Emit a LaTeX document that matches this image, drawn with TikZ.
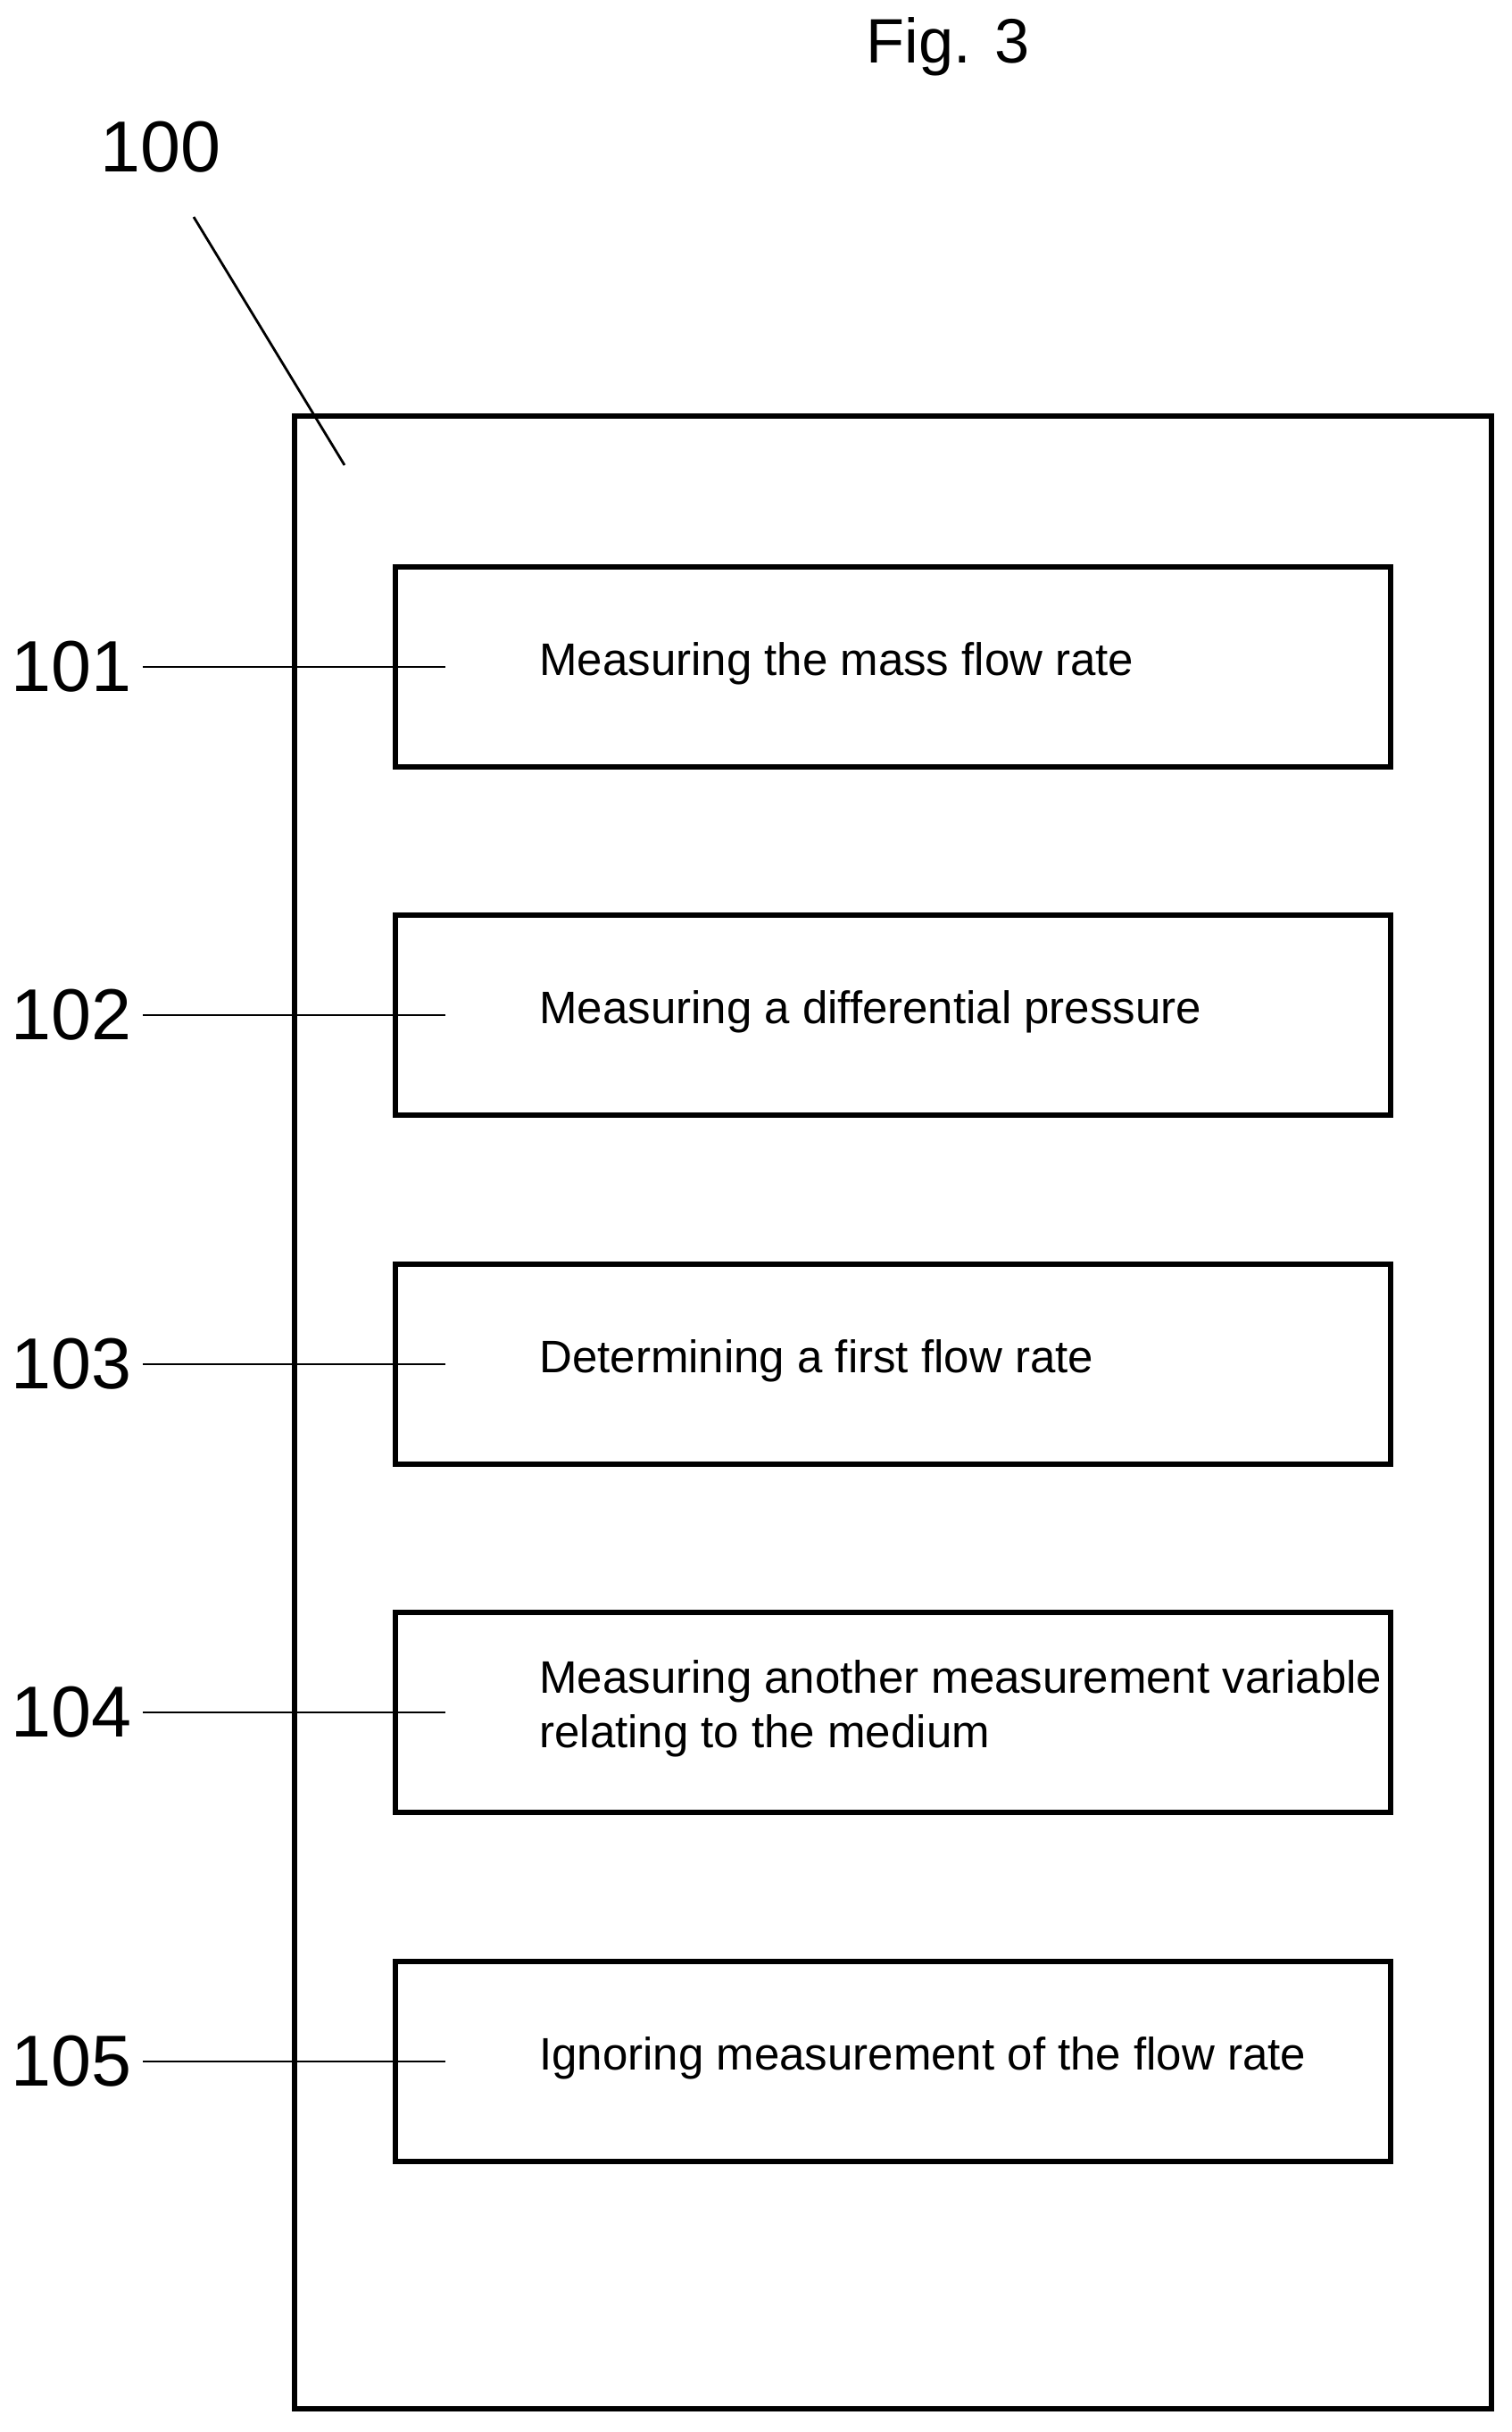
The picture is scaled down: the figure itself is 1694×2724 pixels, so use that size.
\documentclass[tikz,border=0pt]{standalone}
\usepackage{fontspec}
\setmainfont{Liberation Sans}
\begin{document}
\begin{tikzpicture}[x=0.01cm,y=-0.01cm,
  box/.style={draw,line width=1.6pt},
  steptext/.style={anchor=west,font=\fontsize{14.5}{17.5}\selectfont,align=left},
  num/.style={font=\fontsize{20}{24}\selectfont},
  lnum/.style={font=\fontsize{23}{27}\selectfont},
  lead/.style={line width=0.8pt}]
\useasboundingbox (0,0) rectangle (1694,2724);
\node[num] (fig) at (1062,52) {Fig. 3};
\node[lnum] (n100) at (180,165) {100};
\draw[box] (330,466) rectangle (1671,2698);
\coordinate (d1) at (217,243); \coordinate (d2) at (386,521);
\draw[lead] (d1) -- (d2);
\foreach \i/\y/\t in {1/747/{Measuring the mass flow rate},2/1137/{Measuring a differential pressure},3/1528/{Determining a first flow rate},4/1918/{Measuring another measurement variable\\relating to the medium},5/2309/{Ignoring measurement of the flow rate}}{
  \draw[box] (443,\y-112) rectangle (1558,\y+112);
  \node[steptext] (s\i) at (592,\y-4) {\t};
  \node[lnum,anchor=east] (l\i) at (160,\y) {10\i};
  \coordinate (e\i) at (499,\y);
  \draw[lead] (l\i.east) -- (e\i);
}
\end{tikzpicture}
\end{document}
